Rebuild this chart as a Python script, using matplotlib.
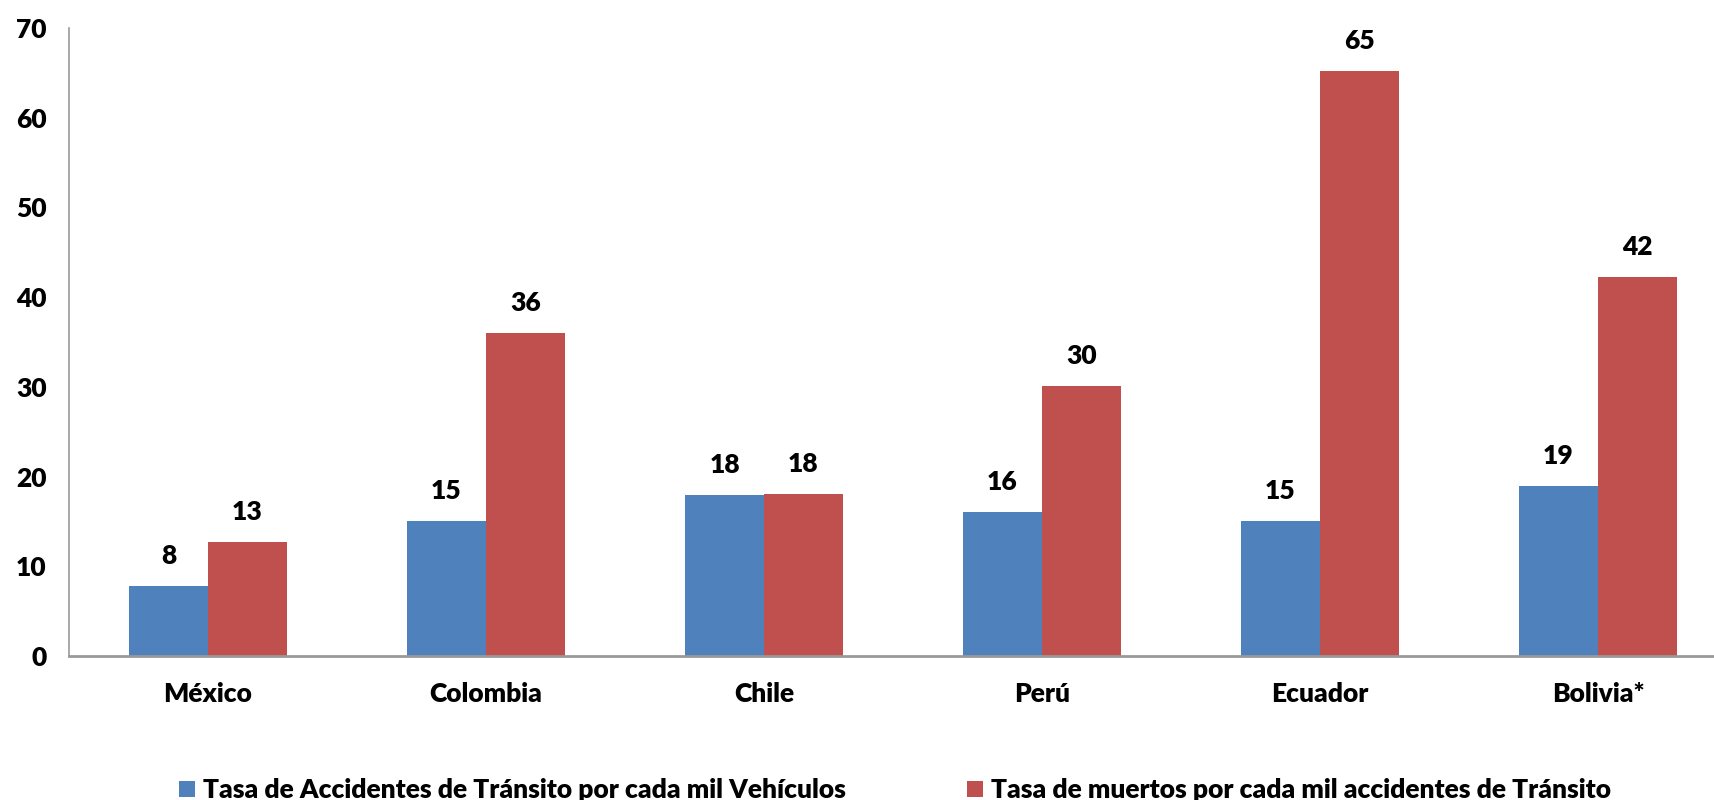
import matplotlib.pyplot as plt
import numpy as np

plt.rcParams['font.family'] = ['Lato', 'DejaVu Sans']
plt.rcParams['font.weight'] = 'heavy'

paises = ['México', 'Colombia', 'Chile', 'Perú', 'Ecuador', 'Bolivia*']
accidentes = [7.8, 15.0, 17.9, 16.0, 15.0, 18.9]
muertos = [12.7, 36.0, 18.1, 30.1, 65.2, 42.2]
nombres = ['Tasa de Accidentes de Tránsito por cada mil Vehículos',
           'Tasa de muertos por cada mil accidentes de Tránsito']
colores = ['#4F81BD', '#C0504D']

x = np.arange(len(paises))
width = 0.284
fs = 19

fig = plt.figure(figsize=(17.14, 8), dpi=100)
ax = fig.add_axes([69 / 1714, 1 - 656 / 800, 1668 / 1714, 628 / 800])

r1 = ax.bar(x - width / 2, accidentes, width, color=colores[0], label=nombres[0])
r2 = ax.bar(x + width / 2, muertos, width, color=colores[1], label=nombres[1])

ax.bar_label(r1, fmt='%.0f', padding=13, fontsize=fs, fontweight='heavy')
ax.bar_label(r2, fmt='%.0f', padding=13, fontsize=fs, fontweight='heavy')

ax.set_xlim(-0.5, 5.5)
ax.set_ylim(0, 70)
ax.set_yticks(range(0, 71, 10))
ax.set_xticks(x, paises)
ax.tick_params(axis='both', length=0, labelsize=fs)
ax.tick_params(axis='x', pad=19)
ax.tick_params(axis='y', pad=16)
for t in ax.get_xticklabels() + ax.get_yticklabels():
    t.set_fontweight('heavy')

for s in ['top', 'right']:
    ax.spines[s].set_visible(False)
ax.spines['left'].set_color('#999999')
ax.spines['left'].set_linewidth(1.2)
ax.spines['bottom'].set_color('#999999')
ax.spines['bottom'].set_linewidth(2)

fig.legend(loc='center', bbox_to_anchor=(0.522, 0.012), ncol=2, frameon=False,
           handlelength=0.6, handleheight=0.6, handletextpad=0.3,
           columnspacing=4.6, prop={'weight': 'heavy', 'size': fs})

fig.savefig('out.png', dpi=100)
